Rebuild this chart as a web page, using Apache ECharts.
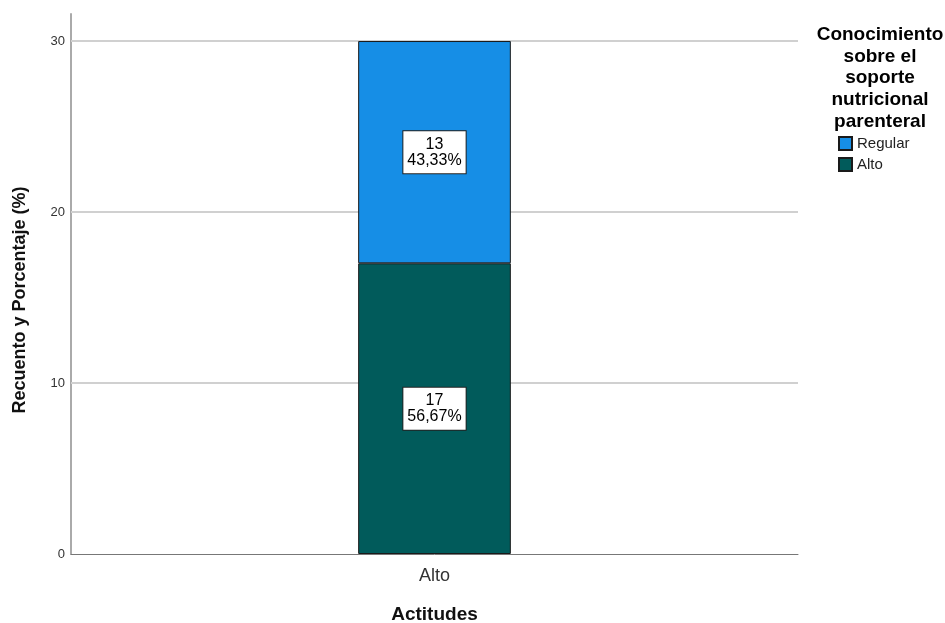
<!DOCTYPE html>
<html>
<head>
<meta charset="utf-8">
<script src="https://cdn.jsdelivr.net/npm/echarts@6/dist/echarts.min.js"></script>
<style>html,body{margin:0;padding:0;background:#fff;overflow:hidden}#c{width:945px;height:623px}</style>
</head>
<body>
<div id="c"></div>
<script>
var categories = ['Alto'];
var seriesNames = ['Alto', 'Regular'];
var altoValues = [17];
var regularValues = [13];
var yTicks = [0, 10, 20, 30];
var legendTitle = 'Conocimiento\nsobre el\nsoporte\nnutricional\nparenteral';

var totals = categories.map(function (c, i) { return altoValues[i] + regularValues[i]; });
function fmtPct(v, total) { return (v / total * 100).toFixed(2).replace('.', ',') + '%'; }
function makeLabel() {
  return {
    show: true, position: 'inside', color: '#000', fontSize: 16, lineHeight: 16,
    fontFamily: 'Liberation Sans, Arial, sans-serif',
    backgroundColor: '#fff', borderColor: '#222', borderWidth: 1, padding: [5, 4],
    formatter: function (p) { return p.value + '\n' + fmtPct(p.value, totals[p.dataIndex]); }
  };
}

var chart = echarts.init(document.getElementById('c'));
chart.setOption({
  animation: false,
  textStyle: { fontFamily: 'Liberation Sans, Arial, sans-serif' },
  title: {
    text: legendTitle, left: 875, top: 19, textAlign: 'center',
    textStyle: { fontSize: 19, fontWeight: 'bold', color: '#000', lineHeight: 21.7 }
  },
  legend: {
    data: ['Regular', 'Alto'], orient: 'vertical', left: 833, top: 131,
    icon: 'rect', itemWidth: 13, itemHeight: 13, itemGap: 6,
    textStyle: { fontSize: 15, color: '#222' }
  },
  grid: { left: 71, right: 147, top: 14, bottom: 69, outerBoundsMode: 'none', containLabel: false },
  xAxis: {
    type: 'category', data: categories,
    name: 'Actitudes', nameLocation: 'middle', nameGap: 51,
    nameTextStyle: { fontSize: 19, fontWeight: 'bold', color: '#111' },
    axisLine: { lineStyle: { color: '#777', width: 1 } },
    axisTick: { show: false },
    axisLabel: { fontSize: 18, color: '#333', margin: 13 }
  },
  yAxis: {
    type: 'value', min: 0, max: 31.58, interval: 10,
    name: 'Recuento y Porcentaje (%)', nameLocation: 'middle', nameGap: 42,
    nameTextStyle: { fontSize: 18, fontWeight: 'bold', color: '#111', padding: [0, 32, 0, 0] },
    axisLine: { show: true, lineStyle: { color: '#aaa', width: 2 } },
    axisTick: { show: false },
    splitLine: { show: false },
    axisLabel: {
      fontSize: 13, color: '#333', margin: 6,
      formatter: function (v) { return yTicks.indexOf(v) >= 0 ? String(v) : ''; }
    }
  },
  series: [
    {
      name: 'Alto', type: 'bar', stack: 'a', data: altoValues, barWidth: '21%', z: 3,
      itemStyle: { color: '#015b5b', borderColor: '#1a1a1a', borderWidth: 1 },
      label: makeLabel(),
      markLine: {
        silent: true, symbol: 'none', z: 1, animation: false,
        label: { show: false },
        lineStyle: { color: '#d0d0d0', width: 2, type: 'solid' },
        data: yTicks.filter(function (t) { return t > 0; }).map(function (t) { return { yAxis: t }; })
      }
    },
    {
      name: 'Regular', type: 'bar', stack: 'a', data: regularValues, barWidth: '21%', z: 3,
      itemStyle: { color: '#168ee6', borderColor: '#1a1a1a', borderWidth: 1 },
      label: makeLabel()
    }
  ]
});
</script>
</body>
</html>
